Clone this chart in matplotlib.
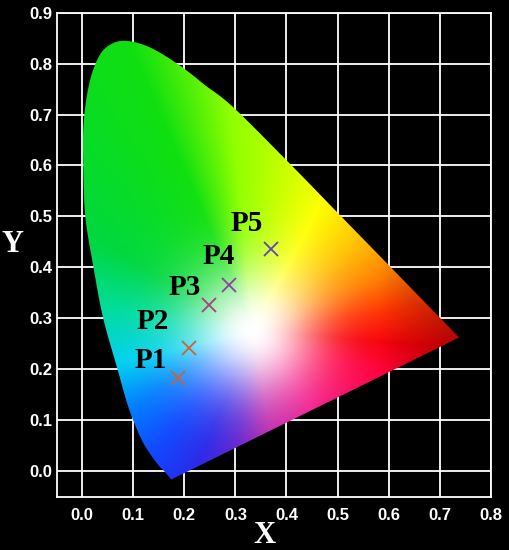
import numpy as np
import matplotlib
matplotlib.use("Agg")
import matplotlib.pyplot as plt
from matplotlib.patches import Polygon
from matplotlib.colors import to_rgb

# Boundary of the colour region, from the blue tip up the
# left edge, over the top and down to the red corner.
locus_x = [0.1745, 0.160, 0.146, 0.120, 0.100, 0.086, 0.069, 0.041, 0.022,
           0.006, 0.002, 0.003, 0.015, 0.035, 0.060, 0.087, 0.120, 0.152, 0.190,
           0.218, 0.240, 0.296, 0.407, 0.505, 0.610, 0.738]
locus_y = [-0.017, 0.000, 0.015, 0.054, 0.099, 0.139, 0.200, 0.300, 0.400,
           0.500, 0.600, 0.687, 0.766, 0.818, 0.840, 0.8445, 0.837, 0.8216, 0.797,
           0.776, 0.758, 0.714, 0.603, 0.502, 0.394, 0.262]

# Hue directions seen around the white spot (angle in degrees, colour)
white_x, white_y = 0.333, 0.275
hue_angles = [-5, 8, 23, 40, 62, 96, 113, 150, 172, 194, 212, 231, 248, 262, 280, 307, 341, 355]
hue_colors = ["#f80008", "#ff3000", "#ff8000", "#ffc000", "#ffff00", "#90ff00", "#10e010",
              "#00d840", "#00dca0", "#00d0f0", "#0080ff", "#1048ff", "#2a28e8",
              "#6020d0", "#c020a8", "#f01088", "#ff0040", "#f80008"]

point_names = ["P1", "P2", "P3", "P4", "P5"]
point_x = [0.188, 0.210, 0.248, 0.287, 0.369]
point_y = [0.183, 0.241, 0.326, 0.366, 0.436]
point_colors = ["#c8642f", "#c8643c", "#a3427e", "#9040a0", "#6040c0"]
label_x = [0.135, 0.138, 0.200, 0.267, 0.322]
label_y = [0.217, 0.294, 0.361, 0.422, 0.486]

x_ticks = [0.0, 0.1, 0.2, 0.3, 0.4, 0.5, 0.6, 0.7, 0.8]
y_ticks = [0.0, 0.1, 0.2, 0.3, 0.4, 0.5, 0.6, 0.7, 0.8, 0.9]


def catmull_rom(px, py, n=12):
    p = np.column_stack([px, py])
    p = np.vstack([p[0], p, p[-1]])
    out = []
    for i in range(1, len(p) - 2):
        p0, p1, p2, p3 = p[i - 1], p[i], p[i + 1], p[i + 2]
        for t in np.linspace(0, 1, n, endpoint=False):
            t2, t3 = t * t, t * t * t
            pt = 0.5 * ((2 * p1) + (-p0 + p2) * t + (2 * p0 - 5 * p1 + 4 * p2 - p3) * t2
                        + (-p0 + 3 * p1 - 3 * p2 + p3) * t3)
            out.append(pt)
    out.append(p[-2])
    return np.array(out)


def colour_field(X, Y):
    dx = X - white_x
    dy = Y - white_y
    ang = np.degrees(np.arctan2(dy, dx))
    ang = ((ang + 5) % 360) - 5
    cols = np.array([to_rgb(c) for c in hue_colors])
    hue = np.stack([np.interp(ang, hue_angles, cols[:, k]) for k in range(3)], axis=-1)
    # darker red towards the red corner
    dark = 1 - 0.3 * np.clip((X - 0.58) / 0.16, 0, 1)
    hue = hue * dark[..., None]
    d = np.hypot(dx, dy)
    s = 1 - np.exp(-(d / 0.13) ** 2)
    rgb = (1 - s[..., None]) * 1.0 + s[..., None] * hue
    return np.clip(rgb, 0, 1)


fig = plt.figure(figsize=(5.1, 5.5), dpi=100, facecolor="black")
ax = fig.add_axes([0.1112, 0.0958, 0.851, 0.8811])
ax.set_facecolor("black")

xmin, xmax, ymin, ymax = -0.05, 0.80, -0.052, 0.90
ax.set_xlim(xmin, xmax)
ax.set_ylim(ymin, ymax)

gx = np.linspace(xmin, xmax, 600)
gy = np.linspace(ymin, ymax, 600)
GX, GY = np.meshgrid(gx, gy)
img = colour_field(GX, GY)

boundary = catmull_rom(locus_x, locus_y)
poly = Polygon(boundary, closed=True, transform=ax.transData,
               facecolor="none", edgecolor="none")
ax.add_patch(poly)
im = ax.imshow(img, origin="lower", extent=(xmin, xmax, ymin, ymax),
               aspect="auto", interpolation="bilinear", zorder=1.5)
im.set_clip_path(poly)

ax.set_axisbelow(True)
ax.grid(True, color="white", linewidth=1.3, zorder=0.5)
for s in ax.spines.values():
    s.set_color("white")
    s.set_linewidth(1.3)

ax.set_xticks(x_ticks)
ax.set_yticks(y_ticks)
ax.set_xticklabels([f"{v:.1f}" for v in x_ticks])
ax.set_yticklabels([f"{v:.1f}" for v in y_ticks])
ax.tick_params(length=0, colors="white")
ax.tick_params(axis="x", pad=8)
ax.tick_params(axis="y", pad=3)
for lab in ax.get_xticklabels() + ax.get_yticklabels():
    lab.set_fontfamily("Liberation Sans")
    lab.set_fontweight("bold")
    lab.set_fontsize(12)
    lab.set_color("white")

for name, px, py, c, lx, ly in zip(point_names, point_x, point_y, point_colors, label_x, label_y):
    ax.plot([px], [py], marker="x", color=c, markersize=10, markeredgewidth=1.3,
            linestyle="none", zorder=3)
    ax.text(lx, ly, name, fontfamily="Liberation Serif", fontweight="bold",
            fontsize=21, color="black", ha="center", va="center", zorder=4)

ax.set_xlabel("X", fontfamily="Liberation Serif", fontweight="bold", fontsize=22, color="white")
ax.set_ylabel("Y", fontfamily="Liberation Serif", fontweight="bold", fontsize=22, color="white",
              rotation=0)
ax.xaxis.set_label_coords(0.4776, -0.078)
ax.xaxis.label.set_va("center")
ax.yaxis.set_label_coords(-0.103, 0.5227)
ax.yaxis.label.set_va("center")
ax.yaxis.label.set_ha("center")

fig.savefig("out.png", dpi=100, facecolor="black")
